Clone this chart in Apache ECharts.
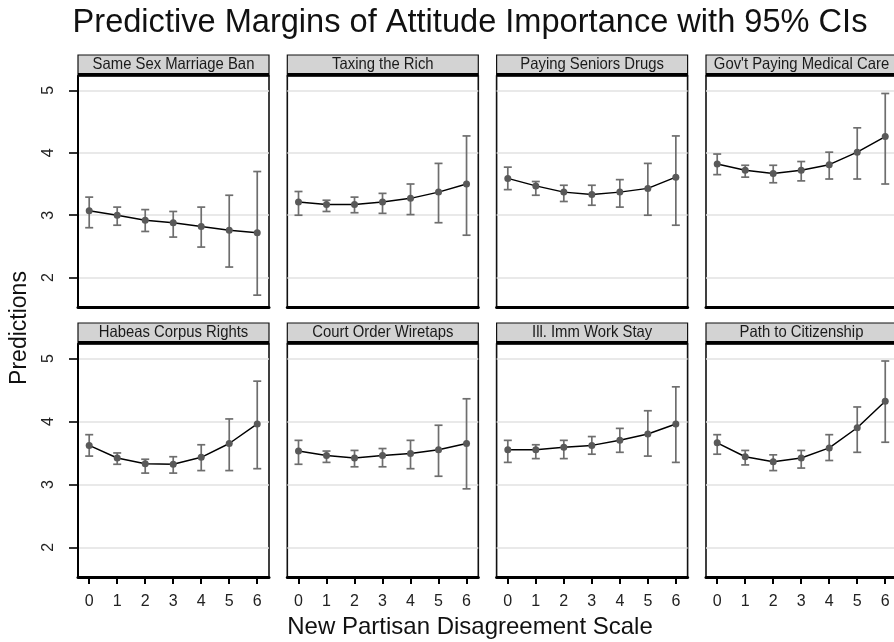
<!DOCTYPE html>
<html>
<head>
<meta charset="utf-8">
<script src="https://cdn.jsdelivr.net/npm/echarts@6/dist/echarts.min.js"></script>
<style>html,body{margin:0;padding:0;background:#fff}#chart{width:894px;height:642px}</style>
</head>
<body>
<div id="chart"></div>
<script>
// ---- data ----
const scaleValues = [0, 1, 2, 3, 4, 5, 6];
const yTickValues = [2, 3, 4, 5];
const panelTitles = ["Same Sex Marriage Ban", "Taxing the Rich", "Paying Seniors Drugs", "Gov't Paying Medical Care",
                     "Habeas Corpus Rights", "Court Order Wiretaps", "Ill. Imm Work Stay", "Path to Citizenship"];

const sameSexEst = [3.07, 3.00, 2.92, 2.88, 2.82, 2.76, 2.72];
const sameSexLo  = [2.80, 2.84, 2.74, 2.65, 2.49, 2.17, 1.72];
const sameSexHi  = [3.29, 3.13, 3.09, 3.06, 3.13, 3.32, 3.70];

const taxRichEst = [3.21, 3.17, 3.17, 3.21, 3.27, 3.37, 3.50];
const taxRichLo  = [3.00, 3.06, 3.04, 3.03, 3.01, 2.88, 2.68];
const taxRichHi  = [3.38, 3.24, 3.29, 3.35, 3.50, 3.83, 4.27];

const seniorDrugsEst = [3.59, 3.47, 3.37, 3.33, 3.37, 3.43, 3.61];
const seniorDrugsLo  = [3.41, 3.32, 3.22, 3.16, 3.13, 3.00, 2.84];
const seniorDrugsHi  = [3.77, 3.54, 3.48, 3.48, 3.57, 3.83, 4.27];

const medCareEst = [3.82, 3.72, 3.67, 3.72, 3.81, 4.01, 4.26];
const medCareLo  = [3.65, 3.61, 3.52, 3.55, 3.58, 3.58, 3.50];
const medCareHi  = [3.98, 3.80, 3.80, 3.86, 4.01, 4.40, 4.95];

const habeasEst = [3.62, 3.42, 3.33, 3.32, 3.43, 3.65, 3.96];
const habeasLo  = [3.45, 3.32, 3.18, 3.18, 3.22, 3.22, 3.25];
const habeasHi  = [3.79, 3.50, 3.40, 3.44, 3.63, 4.04, 4.64];

const wiretapEst = [3.53, 3.46, 3.42, 3.46, 3.49, 3.55, 3.65];
const wiretapLo  = [3.32, 3.35, 3.28, 3.28, 3.25, 3.13, 2.93];
const wiretapHi  = [3.70, 3.53, 3.54, 3.57, 3.70, 3.94, 4.36];

const immWorkEst = [3.55, 3.55, 3.59, 3.62, 3.70, 3.80, 3.96];
const immWorkLo  = [3.35, 3.41, 3.41, 3.48, 3.51, 3.45, 3.35];
const immWorkHi  = [3.70, 3.63, 3.70, 3.76, 3.89, 4.17, 4.55];

const citizenEst = [3.66, 3.44, 3.36, 3.42, 3.58, 3.90, 4.32];
const citizenLo  = [3.48, 3.31, 3.22, 3.26, 3.38, 3.51, 3.67];
const citizenHi  = [3.79, 3.54, 3.47, 3.54, 3.79, 4.23, 4.96];

const panelEst = [sameSexEst, taxRichEst, seniorDrugsEst, medCareEst, habeasEst, wiretapEst, immWorkEst, citizenEst];
const panelLo  = [sameSexLo, taxRichLo, seniorDrugsLo, medCareLo, habeasLo, wiretapLo, immWorkLo, citizenLo];
const panelHi  = [sameSexHi, taxRichHi, seniorDrugsHi, medCareHi, habeasHi, wiretapHi, immWorkHi, citizenHi];

// ---- layout ----
const colLefts = [78, 287.3, 496.6, 706];
const panelW = 191;
const rowTops = [76, 344];
const rowHeights = [231, 233];
const stripH = 21;

const chart = echarts.init(document.getElementById('chart'), null, {renderer: 'canvas'});

const grids = [], xAxes = [], yAxes = [], series = [], graphics = [];
const FONT = '"Liberation Sans", Arial, Helvetica, sans-serif';

for (let p = 0; p < 8; p++) {
  const row = Math.floor(p / 4), col = p % 4;
  const left = colLefts[col], top = rowTops[row], h = rowHeights[row];
  grids.push({left: left, top: top, width: panelW, height: h, show: true,
    borderColor: '#111', borderWidth: 1.6, backgroundColor: '#fff',
    containLabel: false, outerBoundsMode: 'none'});
  xAxes.push({
    type: 'value', gridIndex: p, min: -0.4, max: 6.42,
    axisLine: {show: true, onZero: false, lineStyle: {color: '#000', width: 3}},
    axisTick: {show: row === 1, customValues: scaleValues, length: 7, inside: false, lineStyle: {color: '#000', width: 2}},
    axisLabel: {show: row === 1, customValues: scaleValues, margin: 17, fontSize: 16, color: '#222', fontFamily: FONT},
    splitLine: {show: false}
  });
  yAxes.push({
    type: 'value', gridIndex: p, min: 1.53, max: 5.23,
    axisLine: {show: col === 0, onZero: false, lineStyle: {color: '#000', width: 2}},
    axisTick: {show: col === 0, customValues: yTickValues, length: 9, lineStyle: {color: '#000', width: 1.6}},
    axisLabel: {show: col === 0, customValues: yTickValues, rotate: 90, margin: 21, fontSize: 16, color: '#222', fontFamily: FONT},
    splitLine: {show: true, lineStyle: {color: '#e2e2e2', width: 1.5}}
  });
  const est = panelEst[p], lo = panelLo[p], hi = panelHi[p];
  series.push({
    type: 'custom', xAxisIndex: p, yAxisIndex: p, z: 2,
    data: scaleValues.map((v, i) => [v, lo[i], hi[i]]),
    encode: {x: 0, y: [1, 2]},
    renderItem: function (params, api) {
      const x = api.value(0);
      const pHi = api.coord([x, api.value(2)]);
      const pLo = api.coord([x, api.value(1)]);
      const hw = 4;
      const st = {stroke: '#6e6e6e', lineWidth: 1.7};
      return {type: 'group', children: [
        {type: 'line', shape: {x1: pHi[0], y1: pHi[1], x2: pLo[0], y2: pLo[1]}, style: st},
        {type: 'line', shape: {x1: pHi[0] - hw, y1: pHi[1], x2: pHi[0] + hw, y2: pHi[1]}, style: st},
        {type: 'line', shape: {x1: pLo[0] - hw, y1: pLo[1], x2: pLo[0] + hw, y2: pLo[1]}, style: st}
      ]};
    }
  });
  series.push({
    type: 'line', xAxisIndex: p, yAxisIndex: p, z: 3,
    data: scaleValues.map((v, i) => [v, est[i]]),
    symbol: 'circle', symbolSize: 7, showSymbol: true,
    itemStyle: {color: '#595959'},
    lineStyle: {color: '#000', width: 1.5},
    animation: false
  });
  // strip header
  graphics.push({type: 'rect', shape: {x: left, y: top - stripH, width: panelW, height: stripH},
    style: {fill: '#d3d3d3', stroke: '#111', lineWidth: 1.2}, z: 10});
  graphics.push({type: 'rect', shape: {x: left, y: top - 3, width: panelW, height: 3},
    style: {fill: '#000'}, z: 11});
  graphics.push({type: 'text', x: left + panelW / 2, y: top - stripH / 2 - 1.5, z: 12,
    scaleX: 0.9, scaleY: 1,
    style: {text: panelTitles[p], fill: '#1a1a1a', font: '16.5px ' + FONT, textAlign: 'center', textVerticalAlign: 'middle'}});
}

graphics.push({type: 'text', x: 470, y: 23, z: 20,
  style: {text: 'Predictive Margins of Attitude Importance with 95% CIs', fill: '#111',
    font: '32.6px ' + FONT, textAlign: 'center', textVerticalAlign: 'middle'}});
graphics.push({type: 'text', x: 470, y: 627, z: 20,
  style: {text: 'New Partisan Disagreement Scale', fill: '#111',
    font: '24px ' + FONT, textAlign: 'center', textVerticalAlign: 'middle'}});
graphics.push({type: 'text', x: 20, y: 328, rotation: Math.PI / 2, z: 20,
  style: {text: 'Predictions', fill: '#111',
    font: '23px ' + FONT, textAlign: 'center', textVerticalAlign: 'middle'}});

chart.setOption({
  backgroundColor: '#fff',
  animation: false,
  grid: grids,
  xAxis: xAxes,
  yAxis: yAxes,
  series: series,
  graphic: graphics
});
</script>
</body>
</html>
